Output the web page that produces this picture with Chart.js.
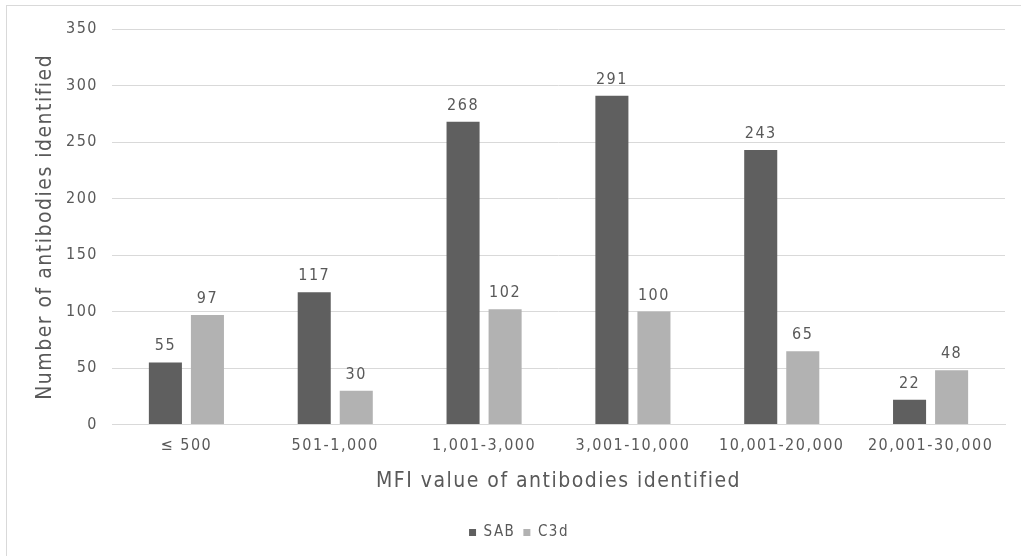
<!DOCTYPE html>
<html>
<head>
<meta charset="utf-8">
<script src="https://cdn.jsdelivr.net/npm/chart.js@4.4.1/dist/chart.umd.min.js"></script>
<style>
  html, body { margin: 0; padding: 0; background: #ffffff; }
  #wrap { position: relative; width: 1021px; height: 556px; }
</style>
</head>
<body>
<div id="wrap"><canvas id="c" width="1021" height="556"></canvas></div>
<script>
// MFI ranges and antibody counts per assay
const categories = ['\u2264 500', '501-1,000', '1,001-3,000', '3,001-10,000', '10,001-20,000', '20,001-30,000'];
const sabValues = [55, 117, 268, 291, 243, 22];
const c3dValues = [97, 30, 102, 100, 65, 48];
const yTicks = [0, 50, 100, 150, 200, 250, 300, 350];

const FONT = "'DejaVu Sans Condensed', 'DejaVu Sans', sans-serif";
const TEXT = '#595959';

// Frame around the whole figure; also widens the letter spacing of all text
const framePlugin = {
  id: 'frame',
  beforeDraw(chart) {
    const ctx = chart.ctx;
    ctx.save();
    ctx.fillStyle = '#ffffff';
    ctx.fillRect(0, 0, chart.width, chart.height);
    ctx.strokeStyle = '#d9d9d9';
    ctx.lineWidth = 1;
    ctx.strokeRect(6.5, 5.5, 1100, 700);
    ctx.restore();
    ctx.letterSpacing = '1.5px';
  },
  beforeLayout(chart) {
    chart.ctx.letterSpacing = '1.5px';
  }
};

// Value labels above each bar
const valueLabels = {
  id: 'valueLabels',
  afterDatasetsDraw(chart) {
    const ctx = chart.ctx;
    ctx.save();
    ctx.font = '16px ' + FONT;
    ctx.fillStyle = TEXT;
    ctx.textAlign = 'center';
    ctx.textBaseline = 'alphabetic';
    chart.data.datasets.forEach((ds, i) => {
      const meta = chart.getDatasetMeta(i);
      meta.data.forEach((bar, j) => {
        ctx.fillText(String(ds.data[j]), bar.x, bar.y - 12);
      });
    });
    ctx.restore();
  }
};

new Chart(document.getElementById('c'), {
  type: 'bar',
  data: {
    labels: categories,
    datasets: [
      { label: 'SAB', data: sabValues, backgroundColor: '#5f5f5f', categoryPercentage: 0.565, barPercentage: 0.786 },
      { label: 'C3d', data: c3dValues, backgroundColor: '#b2b2b2', categoryPercentage: 0.565, barPercentage: 0.786 }
    ]
  },
  options: {
    responsive: false,
    animation: false,
    layout: { padding: { left: 33, right: 16, top: 29, bottom: 6 } },
    plugins: {
      legend: {
        position: 'bottom',
        labels: {
          boxWidth: 7, boxHeight: 7, padding: 8,
          color: TEXT,
          font: { family: FONT, size: 15 }
        }
      },
      tooltip: { enabled: false }
    },
    scales: {
      x: {
        grid: { display: false, drawTicks: false },
        border: { color: '#d9d9d9' },
        ticks: { color: TEXT, font: { family: FONT, size: 16 }, padding: 12, maxRotation: 0 },
        title: { display: true, text: 'MFI value of antibodies identified', color: TEXT, font: { family: FONT, size: 21 }, padding: { top: 1, bottom: 23 } }
      },
      y: {
        min: 0, max: 350,
        afterBuildTicks(scale) { scale.ticks = yTicks.map(v => ({ value: v })); },
        afterFit(scale) { scale.width = 79; },
        grid: { color: '#d9d9d9', drawTicks: false },
        border: { display: false },
        ticks: { color: TEXT, font: { family: FONT, size: 16 }, padding: 14 },
        title: { display: true, text: 'Number of antibodies identified', color: TEXT, font: { family: FONT, size: 21 }, padding: { top: 0, bottom: 10 } }
      }
    }
  },
  plugins: [framePlugin, valueLabels]
});
</script>
</body>
</html>
